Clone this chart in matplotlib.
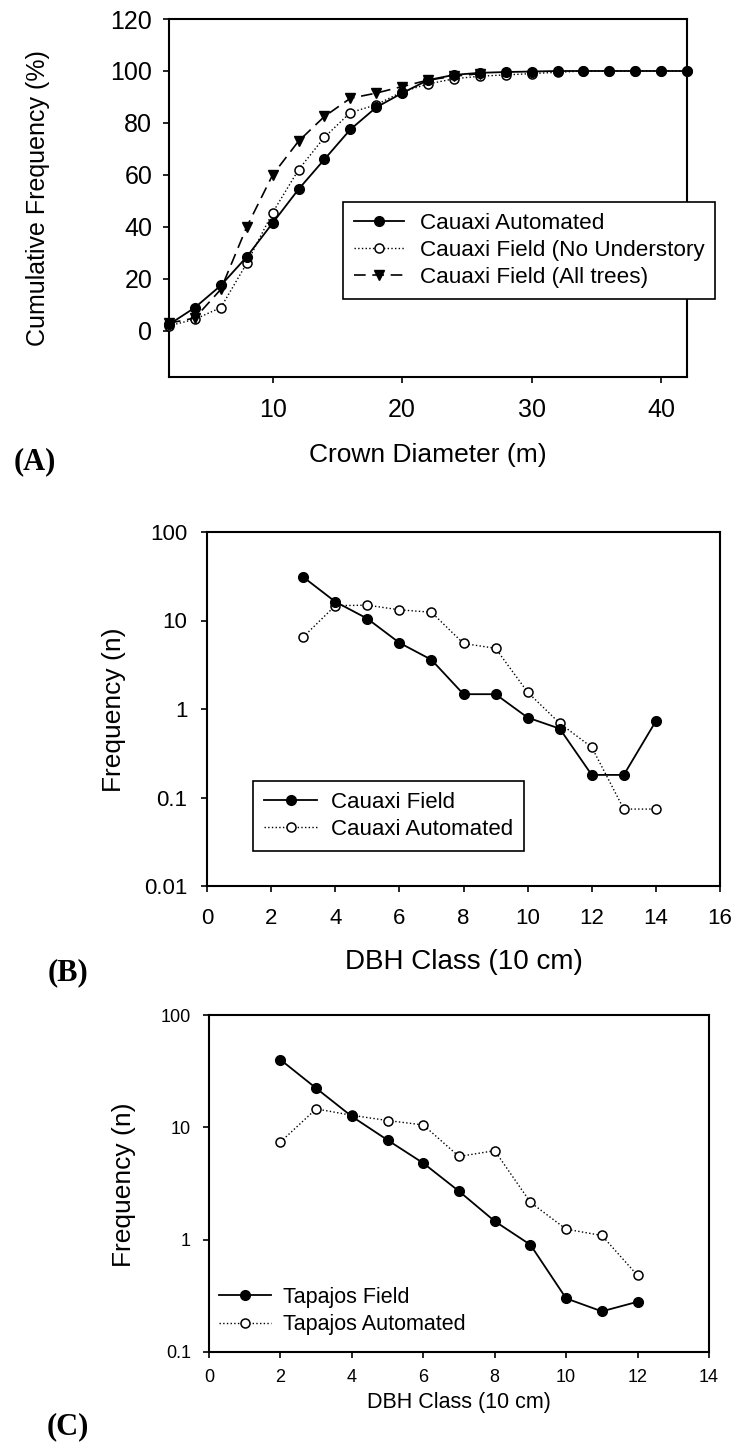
import matplotlib
matplotlib.use("Agg")
import matplotlib.pyplot as plt
from matplotlib.ticker import FixedLocator, NullLocator, FixedFormatter

plt.rcParams['font.family'] = ['Liberation Sans', 'DejaVu Sans']

# ---------------- data ----------------
# Panel A: cumulative frequency vs crown diameter
crown_x = [2, 4, 6, 8, 10, 12, 14, 16, 18, 20, 22, 24, 26, 28, 30, 32, 34, 36, 38, 40, 42]
cauaxi_auto_cum = [2.5, 9, 17.5, 28.5, 41.5, 54.5, 66, 77.5, 86, 91.5, 96.5, 98.5, 99.3, 99.6,
                   99.8, 100, 100, 100, 100, 100, 100]
cauaxi_field_nou_cum = [2, 4.5, 9, 26, 45.5, 62, 74.5, 84, 87, 92, 95, 97, 98, 98.5,
                        99, 99.5, 100, 100, 100, 100, 100]
crown_x_all = [2, 4, 6, 8, 10, 12, 14, 16, 18, 20, 22, 24, 26]
cauaxi_field_all_cum = [3, 5, 16, 40, 60, 73, 82.5, 89.5, 91.5, 94, 96.5, 98, 99]

# Panel B: Cauaxi DBH class frequencies
dbh_b = [3, 4, 5, 6, 7, 8, 9, 10, 11, 12, 13, 14]
cauaxi_field_freq = [31, 16.3, 10.5, 5.6, 3.6, 1.47, 1.47, 0.80, 0.60, 0.18, 0.18, 0.73]
cauaxi_auto_freq = [6.5, 14.7, 14.9, 13.2, 12.4, 5.5, 4.85, 1.55, 0.69, 0.37, 0.074, 0.074]

# Panel C: Tapajos DBH class frequencies
dbh_c = [2, 3, 4, 5, 6, 7, 8, 9, 10, 11, 12]
tapajos_field_freq = [40, 22.3, 12.5, 7.7, 4.8, 2.7, 1.46, 0.90, 0.30, 0.23, 0.28]
tapajos_auto_freq = [7.4, 14.6, 12.8, 11.5, 10.5, 5.5, 6.2, 2.15, 1.24, 1.09, 0.48]

# ---------------- figure ----------------
W, H = 736, 1447
fig = plt.figure(figsize=(W / 100, H / 100), dpi=100)


def axes_px(left, top, right, bottom):
    return fig.add_axes([left / W, 1 - bottom / H, (right - left) / W, (bottom - top) / H])


def style(ax, fs, xpad, ypad):
    for s in ax.spines.values():
        s.set_linewidth(1.5)
        s.set_color('black')
    ax.tick_params(direction='out', length=4, width=1.2, labelsize=fs, colors='black')
    ax.tick_params(axis='x', pad=xpad)
    ax.tick_params(axis='y', pad=ypad)


def place_labels(ax, xl, xfs, xy, yl, yfs, yx, yy=0.5):
    ax.set_xlabel(xl, fontsize=xfs)
    ax.xaxis.label.set_va('center')
    ax.xaxis.set_label_coords(0.5, xy)
    ax.set_ylabel(yl, fontsize=yfs)
    ax.yaxis.label.set_va('center')
    ax.yaxis.set_label_coords(yx, yy)


# ---- Panel A ----
axA = axes_px(169, 19, 687, 377)
style(axA, 18, 11, 8)
axA.plot(crown_x, cauaxi_field_nou_cum, linestyle=':', color='black', lw=1.0,
         marker='o', ms=6.5, mfc='white', mec='black', mew=1.1, clip_on=False, zorder=3,
         label='Cauaxi Field (No Understory')
axA.plot(crown_x_all, cauaxi_field_all_cum, linestyle=(0, (7, 4)), color='black', lw=1.2,
         marker='v', ms=7, mfc='black', mec='black', clip_on=False, zorder=4,
         label='Cauaxi Field (All trees)')
axA.plot(crown_x, cauaxi_auto_cum, linestyle='-', color='black', lw=1.3,
         marker='o', ms=7, mfc='black', mec='black', clip_on=False, zorder=5,
         label='Cauaxi Automated')
axA.set_xlim(2, 42)
axA.set_ylim(-17.7, 120)
axA.set_yticks([0, 20, 40, 60, 80, 100, 120])
axA.set_xticks([10, 20, 30, 40])
place_labels(axA, 'Crown Diameter (m)', 19, -0.218, 'Cumulative Frequency (%)', 18, -0.252)
hA, lA = axA.get_legend_handles_labels()
order = [2, 0, 1]
legA = axA.legend([hA[i] for i in order], [lA[i] for i in order],
                  loc='upper left', bbox_to_anchor=(0.336, 0.489), borderaxespad=0,
                  fontsize=16.2, frameon=True, fancybox=False, framealpha=1,
                  edgecolor='black', handlelength=2.2, handletextpad=0.7,
                  labelspacing=0.26, borderpad=0.5)
legA.get_frame().set_linewidth(1.2)
legA.set_zorder(10)

# ---- Panel B ----
axB = axes_px(207, 532, 720, 886)
style(axB, 16, 12, 10)
axB.plot(dbh_b, cauaxi_field_freq, linestyle='-', color='black', lw=1.3,
         marker='o', ms=7, mfc='black', mec='black', zorder=4, label='Cauaxi Field')
axB.plot(dbh_b, cauaxi_auto_freq, linestyle=':', color='black', lw=1.0,
         marker='o', ms=6.5, mfc='white', mec='black', mew=1.1, zorder=3,
         label='Cauaxi Automated')
axB.set_yscale('log')
axB.set_ylim(0.01, 100)
axB.set_xlim(0, 16)
axB.set_xticks(list(range(0, 17, 2)))
axB.yaxis.set_major_locator(FixedLocator([0.01, 0.1, 1, 10, 100]))
axB.yaxis.set_major_formatter(FixedFormatter(['0.01', '0.1', '1', '10', '100']))
axB.yaxis.set_minor_locator(NullLocator())
place_labels(axB, 'DBH Class (10 cm)', 20, -0.215, 'Frequency (n)', 19, -0.181, 0.497)
legB = axB.legend(loc='upper left', bbox_to_anchor=(0.0897, 0.2966), borderaxespad=0,
                  fontsize=16, frameon=True, fancybox=False, framealpha=1,
                  edgecolor='black', handlelength=2.4, handletextpad=0.6,
                  labelspacing=0.25, borderpad=0.5)
legB.get_frame().set_linewidth(1.2)

# ---- Panel C ----
axC = axes_px(209, 1015, 709, 1352)
style(axC, 13, 8, 9)
axC.plot(dbh_c, tapajos_field_freq, linestyle='-', color='black', lw=1.3,
         marker='o', ms=7, mfc='black', mec='black', zorder=4, label='Tapajos Field')
axC.plot(dbh_c, tapajos_auto_freq, linestyle=':', color='black', lw=1.0,
         marker='o', ms=6.5, mfc='white', mec='black', mew=1.1, zorder=3,
         label='Tapajos Automated')
axC.set_yscale('log')
axC.set_ylim(0.1, 100)
axC.set_xlim(0, 14)
axC.set_xticks(list(range(0, 15, 2)))
axC.yaxis.set_major_locator(FixedLocator([0.1, 1, 10, 100]))
axC.yaxis.set_major_formatter(FixedFormatter(['0.1', '1', '10', '100']))
axC.yaxis.set_minor_locator(NullLocator())
place_labels(axC, 'DBH Class (10 cm)', 15.5, -0.15, 'Frequency (n)', 19, -0.17, 0.496)
legC = axC.legend(loc='upper left', bbox_to_anchor=(0.02, 0.193), borderaxespad=0,
                  fontsize=15.5, frameon=False, handlelength=2.4, handletextpad=0.55,
                  labelspacing=0.3, borderpad=0)

# ---- panel letters ----
letter_kw = dict(fontsize=22, fontweight='bold', family=['Liberation Serif', 'DejaVu Serif'],
                 ha='center', va='center')
fig.text(35 / W, 1 - 462 / H, '(A)', **letter_kw)
fig.text(68 / W, 1 - 973 / H, '(B)', **letter_kw)
fig.text(68 / W, 1 - 1427 / H, '(C)', **letter_kw)

fig.savefig('out.png', dpi=100, facecolor='white')
